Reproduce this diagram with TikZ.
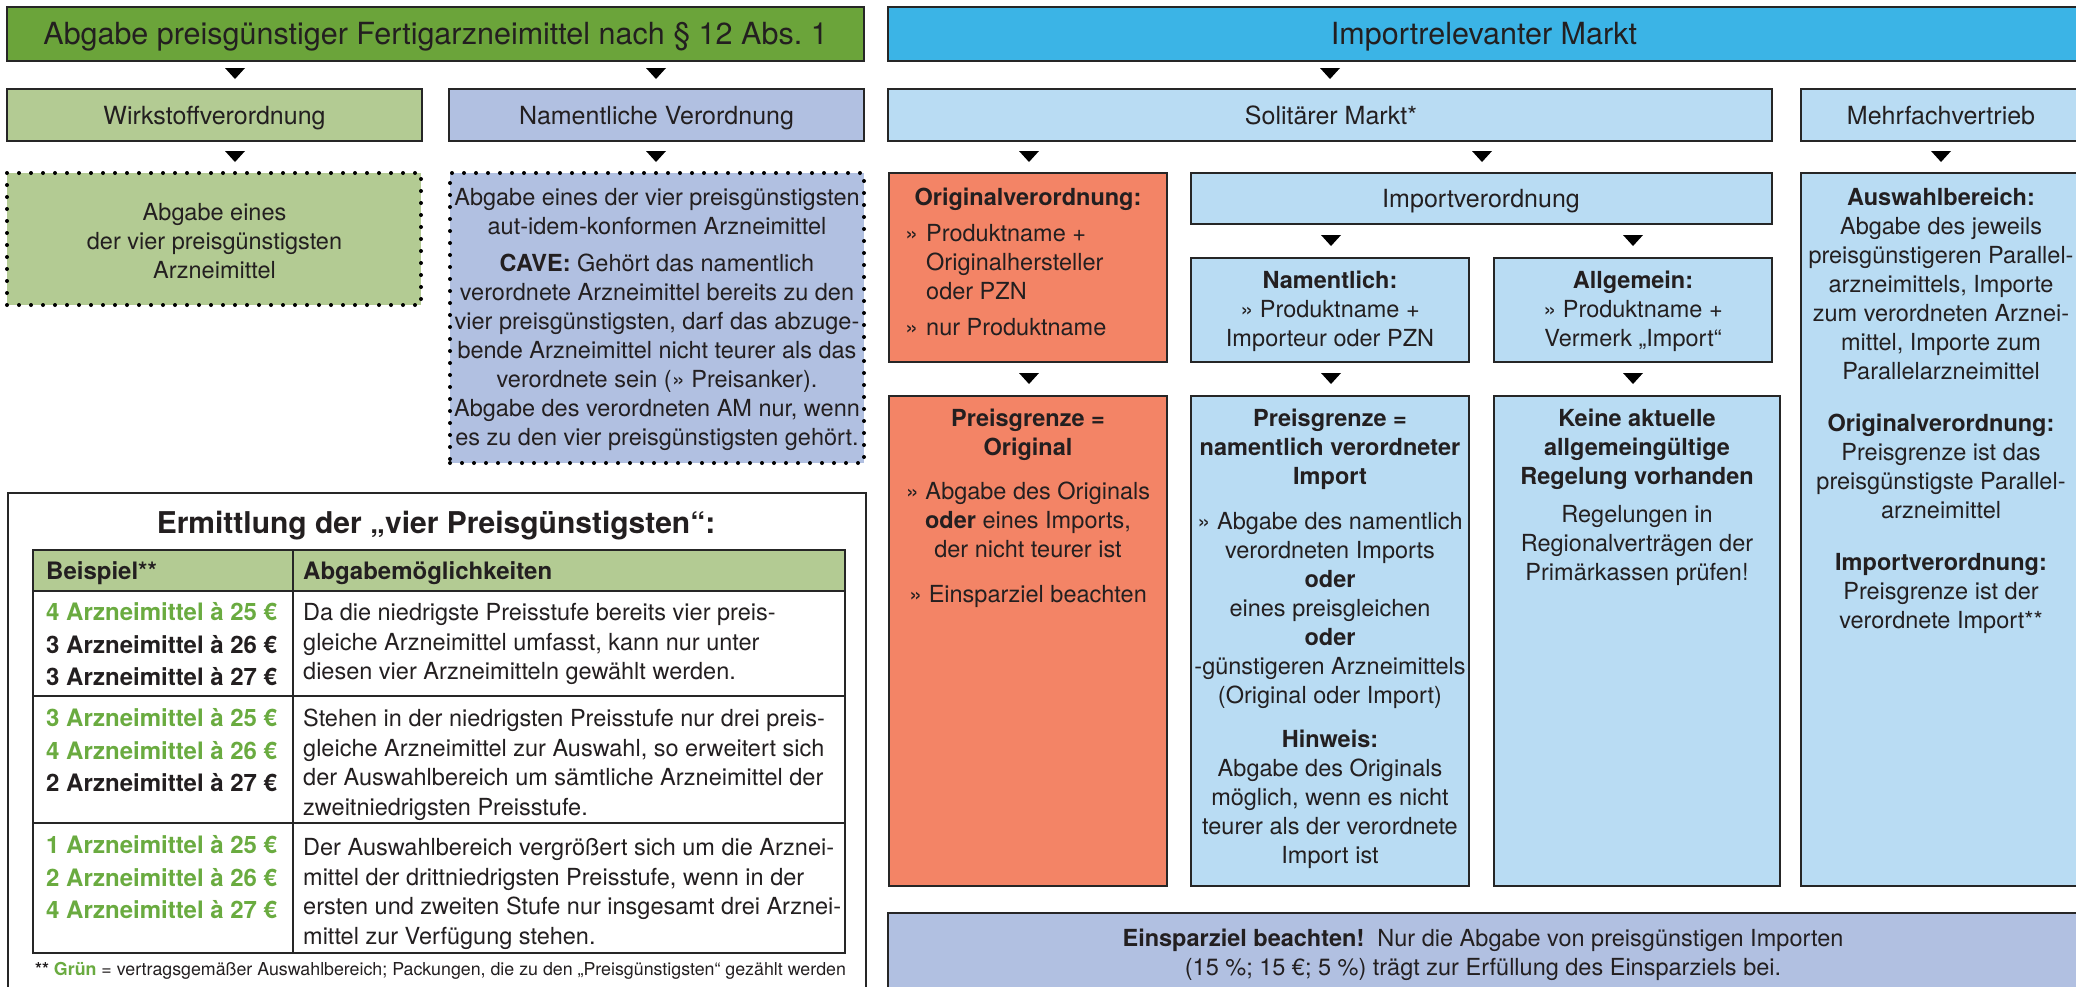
\documentclass[tikz,border=0pt]{standalone}
\usepackage{fontspec}
\setmainfont{TeX Gyre Heros}
\usetikzlibrary{calc}
\definecolor{dgreen}{HTML}{6BA43A}
\definecolor{lgreen}{HTML}{B3CB93}
\definecolor{lav}{HTML}{B1C0E1}
\definecolor{bblue}{HTML}{3BB4E6}
\definecolor{lblue}{HTML}{B9DCF3}
\definecolor{orng}{HTML}{F38466}
\definecolor{bordc}{HTML}{262626}
\definecolor{tgreen}{HTML}{6AAB40}
\definecolor{txt}{HTML}{231F20}
\newcommand\fsz[2]{\fontsize{#1}{#2}\selectfont}
\newcommand\downtri[2]{\fill[black] (#1-10,#2) -- (#1+10,#2) -- (#1,#2+11) -- cycle;}
\begin{document}
\begin{tikzpicture}[x=1pt,y=-1pt,
  box/.style={draw=bordc, line width=2.6pt, inner sep=0pt, outer sep=0pt, anchor=north west},
  dotbox/.style={draw=black, line width=4pt, dash pattern=on 0pt off 12pt, line cap=round, inner sep=0pt, outer sep=0pt, anchor=north west},
  cell/.style={draw=bordc, line width=2.6pt, inner sep=0pt, outer sep=0pt, anchor=north west},
  body/.style={inner sep=0pt, align=center, font=\fsz{23.5}{29}, text=txt, anchor=north},
  ttl/.style={inner sep=0pt, font=\fsz{30.5}{36}, text=txt, anchor=base},
  hdr/.style={inner sep=0pt, font=\fsz{25}{30}, text=txt, anchor=base},
  lcol/.style={inner sep=0pt, align=left, font=\fsz{24}{32.5}\bfseries, text=txt, anchor=north west},
  rcol/.style={inner sep=0pt, align=left, font=\fsz{23.5}{29.5}, text=txt, anchor=north west},
]
\useasboundingbox (0,0) rectangle (2076,986);
\fill[white] (0,0) rectangle (2076,986);

% top row
\node[box, fill=dgreen, minimum width=857pt, minimum height=54pt] (t1) at (7,7) {};
\node[box, fill=bblue, minimum width=1194pt, minimum height=54pt] (t2) at (888,7) {};
\node[ttl] (tt1) at (435.5,44) {Abgabe preisgünstiger Fertigarzneimittel nach § 12 Abs.\ 1};
\node[ttl] (tt2) at (1484,44) {Importrelevanter Markt};

\downtri{235}{68}
\downtri{656}{68}
\downtri{1330}{68}

% second row
\node[box, fill=lgreen, minimum width=415pt, minimum height=52pt] (h1) at (7,89) {};
\node[box, fill=lav, minimum width=415pt, minimum height=52pt] (h2) at (449,89) {};
\node[box, fill=lblue, minimum width=884pt, minimum height=52pt] (h3) at (888,89) {};
\node[box, fill=lblue, minimum width=281pt, minimum height=52pt] (h4) at (1801,89) {};
\node[hdr] (th1) at (214.5,124) {Wirkstoffverordnung};
\node[hdr] (th2) at (656.5,124) {Namentliche Verordnung};
\node[hdr] (th3) at (1331,124) {Solitärer Markt*};
\node[hdr] (th4) at (1941,124) {Mehrfachvertrieb};

\downtri{235}{151}
\downtri{656}{151}
\downtri{1029}{151}
\downtri{1482}{151}
\downtri{1941}{151}

% left detail boxes
\node[dotbox, fill=lgreen, minimum width=414pt, minimum height=132pt] (d1) at (7,173) {};
\node[dotbox, fill=lav, minimum width=414pt, minimum height=290pt] (d2) at (450,173) {};
\node[body] (wT) at (214.5,200) {\strut Abgabe eines\\der vier preisgünstigsten\\Arzneimittel};
\node[body] (nT) at (657,185) {\strut Abgabe eines der vier preisgünstigsten\\aut-idem-konformen Arzneimittel\\[8pt]
  \textbf{CAVE:} Gehört das namentlich\\verordnete Arzneimittel bereits zu den\\vier preisgünstigsten, darf das abzuge-\\bende Arzneimittel nicht teurer als das\\verordnete sein (» Preisanker).\\Abgabe des verordneten AM nur, wenn\\es zu den vier preisgünstigsten gehört.};

% right side boxes
\node[box, fill=orng, minimum width=278pt, minimum height=189pt] (o1) at (889,173) {};
\node[box, fill=lblue, minimum width=581pt, minimum height=51pt] (iv) at (1191,173) {};
\node[box, fill=lblue, minimum width=278pt, minimum height=104pt] (nm) at (1191,258) {};
\node[box, fill=lblue, minimum width=278pt, minimum height=104pt] (al) at (1494,258) {};
\node[box, fill=orng, minimum width=278pt, minimum height=490pt] (o2) at (889,396) {};
\node[box, fill=lblue, minimum width=278pt, minimum height=490pt] (pn) at (1191,396) {};
\node[box, fill=lblue, minimum width=286pt, minimum height=490pt] (ke) at (1494,396) {};
\node[box, fill=lblue, minimum width=281pt, minimum height=713pt] (mf) at (1801,173) {};
\node[box, fill=lav, minimum width=1194pt, minimum height=90pt] (bt) at (888,913) {};

\downtri{1331}{235}
\downtri{1633}{235}
\downtri{1029}{373}
\downtri{1331}{373}
\downtri{1633}{373}

\node[inner sep=0pt, font=\fsz{23.5}{29}\bfseries, text=txt, anchor=base] (oT1) at (1028,205.5) {Originalverordnung:};
\node[inner sep=0pt, align=left, font=\fsz{23.5}{29}, text=txt, anchor=north west] (oT2) at (905,221)
  {\strut\makebox[21pt][l]{»}Produktname +\\\hspace*{21pt}Originalhersteller\\\hspace*{21pt}oder PZN\\[7pt]\makebox[21pt][l]{»}nur Produktname};
\node[hdr] (ivT) at (1481,207.5) {Importverordnung};
\node[body] (nmT) at (1330,268) {\strut\textbf{Namentlich:}\\» Produktname +\\Importeur oder PZN};
\node[body] (alT) at (1633,268) {\strut\textbf{Allgemein:}\\» Produktname +\\Vermerk „Import“};
\node[body] (o2T) at (1028,406) {\strut\textbf{Preisgrenze =}\\\textbf{Original}\\[15pt]» Abgabe des Originals\\\textbf{oder} eines Imports,\\der nicht teurer ist\\[16pt]» Einsparziel beachten};
\node[body] (pnT) at (1330,406) {\strut\textbf{Preisgrenze =}\\\textbf{namentlich verordneter}\\\textbf{Import}\\[16pt]» Abgabe des namentlich\\verordneten Imports\\\textbf{oder}\\eines preisgleichen\\\textbf{oder}\\-günstigeren Arzneimittels\\(Original oder Import)\\[15pt]\textbf{Hinweis:}\\Abgabe des Originals\\möglich, wenn es nicht\\teurer als der verordnete\\Import ist};
\node[body] (keT) at (1637,406) {\strut\textbf{Keine aktuelle}\\\textbf{allgemeingültige}\\\textbf{Regelung vorhanden}\\[9pt]Regelungen in\\Regionalverträgen der\\Primärkassen prüfen!};
\node[body] (mfT) at (1941,185) {\strut\textbf{Auswahlbereich:}\\Abgabe des jeweils\\preisgünstigeren Parallel-\\arzneimittels, Importe\\zum verordneten Arznei-\\mittel, Importe zum\\Parallelarzneimittel\\[23pt]\textbf{Originalverordnung:}\\Preisgrenze ist das\\preisgünstigste Parallel-\\arzneimittel\\[23pt]\textbf{Importverordnung:}\\Preisgrenze ist der\\verordnete Import**};
\node[body] (btT) at (1483,926) {\strut\textbf{Einsparziel beachten!}\ \ Nur die Abgabe von preisgünstigen Importen\\(15 \%; 15 €; 5 \%) trägt zur Erfüllung des Einsparziels bei.};

% table block
\node[draw=bordc, line width=2pt, inner sep=0pt, anchor=north west, minimum width=858pt, minimum height=510pt] (tb) at (7,492) {};
\node[inner sep=0pt, font=\fsz{30}{36}\bfseries, text=txt, anchor=base] (tbT) at (436,533) {Ermittlung der „vier Preisgünstigsten“:};
\node[cell, fill=lgreen, minimum width=260pt, minimum height=41pt] (c00) at (33,550) {};
\node[cell, fill=lgreen, minimum width=552pt, minimum height=41pt] (c01) at (293,550) {};
\node[cell, minimum width=260pt, minimum height=105pt] (c10) at (33,591) {};
\node[cell, minimum width=552pt, minimum height=105pt] (c11) at (293,591) {};
\node[cell, minimum width=260pt, minimum height=127pt] (c20) at (33,696) {};
\node[cell, minimum width=552pt, minimum height=127pt] (c21) at (293,696) {};
\node[cell, minimum width=260pt, minimum height=130pt] (c30) at (33,823) {};
\node[cell, minimum width=552pt, minimum height=130pt] (c31) at (293,823) {};
\node[inner sep=0pt, font=\fsz{24}{30}\bfseries, text=txt, anchor=base west] (hA) at (46,579) {Beispiel**};
\node[inner sep=0pt, font=\fsz{24}{30}\bfseries, text=txt, anchor=base west] (hB) at (303,579) {Abgabemöglichkeiten};
\node[lcol] (l1) at (46,598) {\strut\textcolor{tgreen}{4 Arzneimittel à 25 €}\\3 Arzneimittel à 26 €\\3 Arzneimittel à 27 €};
\node[lcol] (l2) at (46,704) {\strut\textcolor{tgreen}{3 Arzneimittel à 25 €}\\\textcolor{tgreen}{4 Arzneimittel à 26 €}\\2 Arzneimittel à 27 €};
\node[lcol] (l3) at (46,831) {\strut\textcolor{tgreen}{1 Arzneimittel à 25 €}\\\textcolor{tgreen}{2 Arzneimittel à 26 €}\\\textcolor{tgreen}{4 Arzneimittel à 27 €}};
\node[rcol] (r1) at (303,600) {\strut Da die niedrigste Preisstufe bereits vier preis-\\gleiche Arzneimittel umfasst, kann nur unter\\diesen vier Arzneimitteln gewählt werden.};
\node[rcol] (r2) at (303,706) {\strut Stehen in der niedrigsten Preisstufe nur drei preis-\\gleiche Arzneimittel zur Auswahl, so erweitert sich\\der Auswahlbereich um sämtliche Arzneimittel der\\zweitniedrigsten Preisstufe.};
\node[rcol] (r3) at (303,835) {\strut Der Auswahlbereich vergrößert sich um die Arznei-\\mittel der drittniedrigsten Preisstufe, wenn in der\\ersten und zweiten Stufe nur insgesamt drei Arznei-\\mittel zur Verfügung stehen.};
\node[inner sep=0pt, font=\fsz{17.8}{22}, text=txt, anchor=base west] (fn) at (35,975) {\textbf{**} \textbf{\textcolor{tgreen}{Grün}} = vertragsgemäßer Auswahlbereich; Packungen, die zu den „Preisgünstigsten“ gezählt werden};
\end{tikzpicture}
\end{document}
